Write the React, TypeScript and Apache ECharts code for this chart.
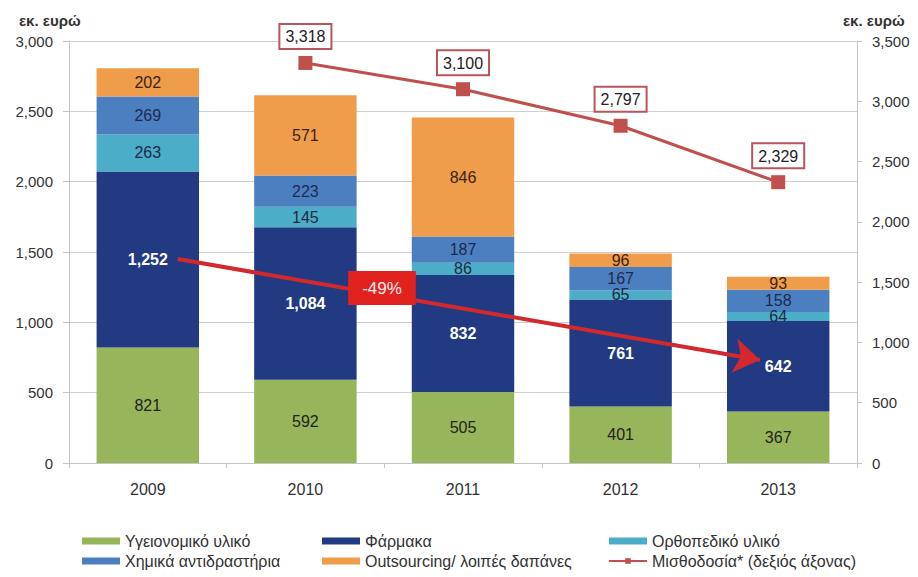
import React, { useEffect, useRef } from "react";
import * as echarts from "echarts";

const years = ["2009", "2010", "2011", "2012", "2013"];
const medicalSupplies = [821, 592, 505, 401, 367];
const pharmaceuticals = [1252, 1084, 832, 761, 642];
const orthopedic = [263, 145, 86, 65, 64];
const reagents = [269, 223, 187, 167, 158];
const outsourcing = [202, 571, 846, 96, 93];
const payroll = [null, 3318, 3100, 2797, 2329];

const leftAxis = { min: 0, max: 3000, interval: 500 };
const rightAxis = { min: 0, max: 3500, interval: 500 };
const unitName = "εκ. ευρώ";

// arrow annotation (x in category-index units, y in left-axis units)
const arrowStart = [0.19, 1450];
const arrowEnd = [3.885, 732];
const arrowLabelAt = [1.486, 1244];
const arrowLabel = "-49%";

const names = {
  med: "Υγειονομικό υλικό",
  pharma: "Φάρμακα",
  ortho: "Ορθοπεδικό υλικό",
  reag: "Χημικά αντιδραστήρια",
  out: "Outsourcing/ λοιπές δαπάνες",
  pay: "Μισθοδοσία* (δεξιός άξονας)",
};

const FONT = "'Liberation Sans', Arial, sans-serif";
const fmt = (v: number) => Number(v).toLocaleString("en-US");

export default function App() {
  const ref = useRef<HTMLDivElement>(null);
  useEffect(() => {
    if (!ref.current) return;
    const chart = echarts.init(ref.current, null, { renderer: "svg" });
    const barLabel = (color: string, bold = false) => ({
      show: true,
      position: "inside",
      color,
      fontSize: 16,
      fontWeight: bold ? "bold" : "normal",
      fontFamily: FONT,
      formatter: (p: any) => fmt(p.value),
    });
    const bar = (name: string, data: number[], color: string, lblColor: string, bold = false) => ({
      name,
      type: "bar",
      stack: "total",
      barWidth: "65%",
      data,
      itemStyle: { color },
      label: barLabel(lblColor, bold),
    });
    const legendBase = {
      orient: "vertical",
      top: 528,
      itemGap: 4,
      itemWidth: 38,
      itemHeight: 7,
      textStyle: { fontSize: 16, color: "#333", fontFamily: FONT, lineHeight: 16 },
    };
    chart.setOption({
      animation: false,
      textStyle: { fontFamily: FONT },
      grid: { left: 69, right: 61, top: 41, bottom: 114 },
      legend: [
        { ...legendBase, left: 77, data: [{ name: names.med, icon: "rect" }, { name: names.reag, icon: "rect" }] },
        { ...legendBase, left: 317, data: [{ name: names.pharma, icon: "rect" }, { name: names.out, icon: "rect" }] },
        { ...legendBase, left: 603, data: [{ name: names.ortho, icon: "rect" }, { name: names.pay }] },
      ],
      graphic: [
        { type: "text", left: 19, top: 13, style: { text: unitName, fontSize: 15, fontWeight: "bold", fill: "#333", fontFamily: FONT } },
        { type: "text", left: 843, top: 13, style: { text: unitName, fontSize: 15, fontWeight: "bold", fill: "#333", fontFamily: FONT } },
      ],
      xAxis: [
        {
          type: "category",
          data: years,
          axisLine: { onZero: false, lineStyle: { color: "#c4c4c4" } },
          axisTick: { show: true, length: 5, lineStyle: { color: "#c4c4c4" } },
          axisLabel: { fontSize: 16, color: "#333", margin: 18 },
        },
        {
          type: "value",
          min: -0.5,
          max: 4.5,
          show: false,
          axisLine: { show: false, onZero: false },
          axisTick: { show: false },
          axisLabel: { show: false },
          splitLine: { show: false },
        },
      ],
      yAxis: [
        {
          type: "value",
          position: "left",
          ...leftAxis,
          axisLine: { show: true, onZero: false, lineStyle: { color: "#c4c4c4" } },
          axisTick: { show: true, length: 6, lineStyle: { color: "#c4c4c4" } },
          splitLine: { lineStyle: { color: "#cfcfcf" } },
          axisLabel: { fontSize: 15, color: "#333", margin: 16, formatter: fmt },
        },
        {
          type: "value",
          position: "right",
          ...rightAxis,
          axisLine: { show: true, onZero: false, lineStyle: { color: "#c4c4c4" } },
          axisTick: { show: true, length: 5, lineStyle: { color: "#c4c4c4" } },
          splitLine: { show: false },
          axisLabel: { fontSize: 15, color: "#333", margin: 15, formatter: fmt },
        },
      ],
      series: [
        bar(names.med, medicalSupplies, "#97B55A", "#222"),
        bar(names.pharma, pharmaceuticals, "#213A82", "#fff", true),
        bar(names.ortho, orthopedic, "#4BADC8", "#1c2a44"),
        bar(names.reag, reagents, "#4C7FBF", "#1c2a50"),
        bar(names.out, outsourcing, "#EF9C4B", "#3a2410"),
        {
          name: names.pay,
          type: "line",
          yAxisIndex: 1,
          data: payroll,
          connectNulls: false,
          symbol: "rect",
          symbolSize: 14,
          itemStyle: { color: "#C0504D" },
          lineStyle: { color: "#C0504D", width: 3 },
          label: {
            show: true,
            position: "top",
            distance: 8,
            formatter: (p: any) => fmt(p.value),
            fontSize: 16,
            color: "#222",
            backgroundColor: "#fff",
            borderColor: "#B9545C",
            borderWidth: 2,
            padding: [4, 5, 3, 5],
          },
          z: 5,
        },
        {
          name: "arrow",
          type: "lines",
          coordinateSystem: "cartesian2d",
          xAxisIndex: 1,
          yAxisIndex: 0,
          symbol: ["none", "arrow"],
          symbolSize: 26,
          lineStyle: { color: "#D2282E", width: 4, opacity: 1, curveness: 0 },
          data: [{ coords: [arrowStart, arrowEnd] }],
          z: 6,
          silent: true,
        },
        {
          name: "arrowLabel",
          type: "scatter",
          xAxisIndex: 1,
          yAxisIndex: 0,
          symbolSize: 1,
          itemStyle: { color: "rgba(0,0,0,0)", opacity: 1 },
          data: [arrowLabelAt],
          label: {
            show: true,
            position: "inside",
            formatter: arrowLabel,
            color: "#fdeeee",
            fontSize: 17,
            backgroundColor: "#E2221F",
            padding: [9, 14, 8, 14],
          },
          z: 7,
          silent: true,
        },
      ],
    });
    return () => chart.dispose();
  }, []);
  return <div ref={ref} style={{ position: "fixed", left: 0, top: 0, width: 918, height: 577, background: "#fff" }} />;
}
